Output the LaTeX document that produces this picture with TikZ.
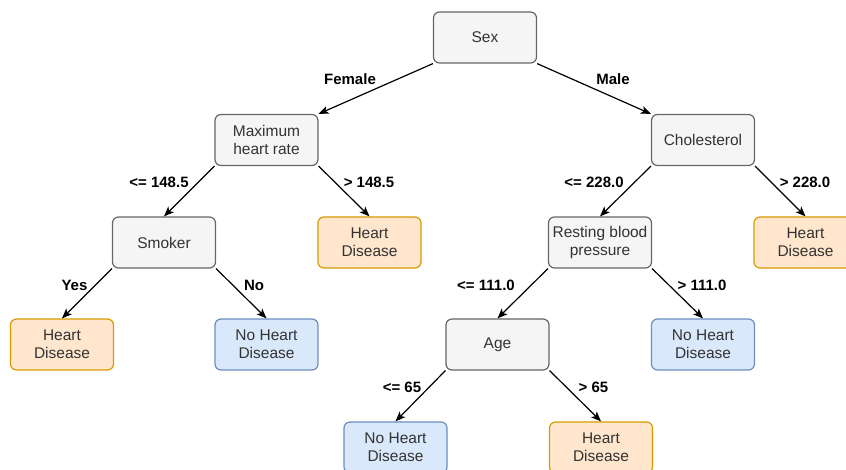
\documentclass[tikz,border=0pt]{standalone}
\usepackage{fontspec}
\setmainfont{Liberation Sans}
\usetikzlibrary{arrows.meta}

\definecolor{grayfill}{HTML}{F5F5F5}
\definecolor{graydraw}{HTML}{666666}
\definecolor{hdfill}{HTML}{FFE6CC}
\definecolor{hddraw}{HTML}{D79B00}
\definecolor{nhfill}{HTML}{DAE8FC}
\definecolor{nhdraw}{HTML}{6C8EBF}
\definecolor{nodetext}{HTML}{333333}

\tikzset{
  box/.style={rectangle, rounded corners=6pt, line width=1.2pt,
    minimum width=103pt, minimum height=51pt, inner sep=0pt,
    align=center, text=nodetext,
    font=\fontsize{15.5}{18}\selectfont},
  split/.style={box, fill=grayfill, draw=graydraw},
  yes/.style={box, fill=hdfill, draw=hddraw},
  nope/.style={box, fill=nhfill, draw=nhdraw},
  branch/.style={line width=1.2pt, draw=black,
    -{Stealth[length=10pt,width=8pt,inset=2.5pt]}},
  lbl/.style={font=\bfseries\fontsize{15}{18}\selectfont, inner sep=0pt}
}

\begin{document}
\begin{tikzpicture}[x=1pt,y=-1pt]
  \useasboundingbox (0,0) rectangle (846,470);
  \clip (0,0) rectangle (846,470);

  % decision nodes
  \node[split] (sex)   at (485,37.5)   {Sex};
  \node[split] (maxhr) at (266.5,140)  {Maximum\\heart rate};
  \node[split] (chol)  at (703,140)    {Cholesterol};
  \node[split] (smoke) at (164,242.5)  {Smoker};
  \node[split] (rbp)   at (600,242.5)  {Resting blood\\pressure};
  \node[split] (age)   at (497.5,344.5){Age};

  % leaves
  \node[yes]  (hd1) at (369.5,242.5) {Heart\\Disease};
  \node[yes]  (hd2) at (805.5,242.5) {Heart\\Disease};
  \node[yes]  (hd3) at (62,344.5)    {Heart\\Disease};
  \node[nope] (nh1) at (266.5,344.5) {No Heart\\Disease};
  \node[nope] (nh2) at (703,344.5)   {No Heart\\Disease};
  \node[nope] (nh3) at (395.5,447.5) {No Heart\\Disease};
  \node[yes]  (hd4) at (601,447.5)   {Heart\\Disease};

  % branches
  \draw[branch] (sex.south west)   -- (maxhr.north east);
  \draw[branch] (sex.south east)   -- (chol.north west);
  \draw[branch] (maxhr.south west) -- (smoke.north);
  \draw[branch] (maxhr.south east) -- (hd1.north);
  \draw[branch] (chol.south west)  -- (rbp.north);
  \draw[branch] (chol.south east)  -- (hd2.north);
  \draw[branch] (smoke.south west) -- (hd3.north);
  \draw[branch] (smoke.south east) -- (nh1.north);
  \draw[branch] (rbp.south west)   -- (age.north);
  \draw[branch] (rbp.south east)   -- (nh2.north);
  \draw[branch] (age.south west)   -- (nh3.north);
  \draw[branch] (age.south east)   -- (hd4.north);

  % branch labels
  \node[lbl] (lfemale) at (350,79.5)  {Female};
  \node[lbl] (lmale)   at (613,79.5)  {Male};
  \node[lbl] (lmaxle)  at (159,182)   {<= 148.5};
  \node[lbl] (lmaxgt)  at (369,182)   {> 148.5};
  \node[lbl] (lchle)   at (594,182)   {<= 228.0};
  \node[lbl] (lchgt)   at (805,182)   {> 228.0};
  \node[lbl] (lyes)    at (74.5,285)  {Yes};
  \node[lbl] (lno)     at (254,285)   {No};
  \node[lbl] (lrbple)  at (486,285)   {<= 111.0};
  \node[lbl] (lrbpgt)  at (702,285)   {> 111.0};
  \node[lbl] (lagele)  at (402,387.5) {<= 65};
  \node[lbl] (lagegt)  at (593.5,387.5) {> 65};
\end{tikzpicture}
\end{document}
